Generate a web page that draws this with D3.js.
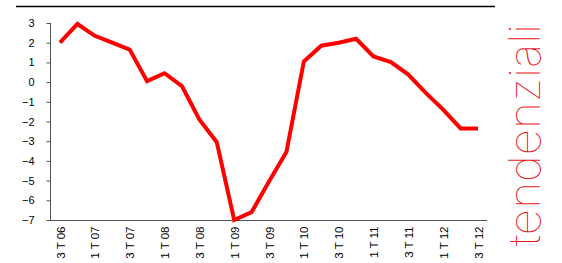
<!DOCTYPE html>
<html>
<head>
<meta charset="utf-8">
<script src="https://cdn.jsdelivr.net/npm/d3@7"></script>
<style>
  body { margin: 0; background: #fff; }
  svg { display: block; }
</style>
</head>
<body>
<div id="chart"></div>
<script>
// quarters, from 3T06 to 3T12
var quarters = ["3 T 06", "4 T 06", "1 T 07", "2 T 07", "3 T 07", "4 T 07", "1 T 08", "2 T 08",
                "3 T 08", "4 T 08", "1 T 09", "2 T 09", "3 T 09", "4 T 09", "1 T 10", "2 T 10",
                "3 T 10", "4 T 10", "1 T 11", "2 T 11", "3 T 11", "4 T 11", "1 T 12", "2 T 12", "3 T 12"];
var values = [2.0, 2.95, 2.35, 2.0, 1.65, 0.05, 0.45, -0.2, -1.9, -3.05, -7.0, -6.6, -5.05,
              -3.55, 1.05, 1.85, 2.0, 2.2, 1.3, 1.02, 0.38, -0.55, -1.4, -2.35, -2.35];
var yTicks = [3, 2, 1, 0, -1, -2, -3, -4, -5, -6, -7];
var tickLabels = quarters.filter(function(d, i) { return i % 2 == 0; });

var w = 562, h = 263;

var svg = d3.select("#chart").append("svg")
    .attr("width", w)
    .attr("height", h);

var x = d3.scalePoint()
    .domain(quarters)
    .range([60, 478]);

var y = d3.scaleLinear()
    .domain([-7, 3])
    .range([220, 23]);

// top rule
svg.append("line")
    .attr("x1", 16).attr("x2", 495)
    .attr("y1", 6.5).attr("y2", 6.5)
    .attr("stroke", "#000")
    .attr("stroke-width", 1.5);

// y axis
var yAxis = svg.append("g")
    .attr("transform", "translate(50.5,0)")
    .call(d3.axisLeft(y).tickValues(yTicks).tickSize(4).tickPadding(12));
yAxis.select(".domain").attr("stroke", "#555").attr("d", "M0," + y(3) + "V" + y(-7));
yAxis.selectAll(".tick line").attr("stroke", "#555");
yAxis.selectAll("text")
    .attr("font-family", "Arial, 'Liberation Sans', sans-serif")
    .attr("font-size", "11px")
    .attr("fill", "#000");

// x axis
var xAxis = svg.append("g")
    .attr("transform", "translate(0,220.5)")
    .call(d3.axisBottom(x).tickValues(tickLabels).tickSize(0).tickPadding(0));
xAxis.select(".domain").attr("stroke", "#555").attr("d", "M50,0H487");
xAxis.selectAll("text")
    .attr("font-family", "Arial, 'Liberation Sans', sans-serif")
    .attr("font-size", "11.5px")
    .attr("fill", "#000")
    .attr("text-anchor", "end")
    .attr("dy", null)
    .attr("y", 0)
    .attr("transform", "translate(1,6) rotate(-90)")
    .attr("dominant-baseline", "middle");

// the line
var line = d3.line()
    .x(function(d, i) { return x(quarters[i]); })
    .y(function(d) { return y(d); });

svg.append("path")
    .datum(values)
    .attr("d", line)
    .attr("fill", "none")
    .attr("stroke", "#ff0000")
    .attr("stroke-width", 4)
    .attr("stroke-linejoin", "miter");

// side title
svg.append("text")
    .attr("transform", "translate(540,246) rotate(-90)")
    .attr("font-family", "Inter, 'Open Sans', sans-serif")
    .attr("font-weight", 100)
    .attr("font-size", "44px")
    .attr("fill", "#e8191e")
    .attr("textLength", 222)
    .attr("lengthAdjust", "spacingAndGlyphs")
    .text("tendenziali");
</script>
</body>
</html>
